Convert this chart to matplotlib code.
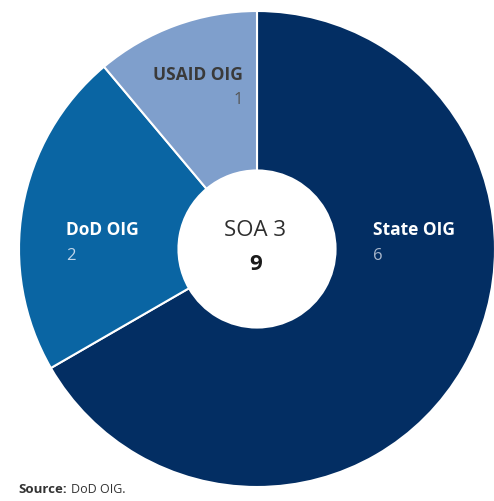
import matplotlib
matplotlib.use("Agg")
from matplotlib import pyplot as plt

# donut chart: SOA 3 oversight projects by agency
agencies = ["State OIG", "DoD OIG", "USAID OIG"]
counts = [6, 2, 1]
colors = ["#032e63", "#0a65a3", "#7f9fcc"]
center_title = "SOA 3"
center_total = str(sum(counts))

plt.rcParams['font.family'] = ['Open Sans', 'DejaVu Sans']

W, H = 494, 502
fig = plt.figure(figsize=(W / 100, H / 100), dpi=100)
ax = fig.add_axes([0, 0, 1, 1])

cx, cy, r = 257, H - 250, 238
ax.pie(counts, colors=colors, startangle=90, counterclock=False,
       center=(cx, cy), radius=r,
       wedgeprops=dict(width=r * 0.67, edgecolor="white", linewidth=1.5))
ax.set_xlim(0, W)
ax.set_ylim(0, H)
ax.set_aspect('equal')
ax.axis('off')

def Y(py):
    return H - py

# labels inside the wedges
lab = dict(fontsize=12.5, fontweight="bold", va="center")
num = dict(fontsize=12, va="center")
ax.text(373, Y(230), agencies[0], color="white", ha="left", **lab)
ax.text(373, Y(256), str(counts[0]), color="#a9b7cb", ha="left", **num)
ax.text(66, Y(230), agencies[1], color="white", ha="left", **lab)
ax.text(66, Y(256), str(counts[1]), color="#c0d5ea", ha="left", **num)
ax.text(243, Y(75), agencies[2], color="#3a3a3a", ha="right", **lab)
ax.text(243, Y(100), str(counts[2]), color="#555555", ha="right", **num)

# center
ax.text(255, Y(231), center_title, color="#2e2e2e", fontsize=16, va="center", ha="center")
ax.text(256, Y(264), center_total, color="#1a1a1a", fontsize=16, fontweight="bold", va="center", ha="center")

# source
ax.text(18, Y(490), "Source:", color="#333333", fontsize=9.5, fontweight="bold", va="center", ha="left")
ax.text(71, Y(490), "DoD OIG.", color="#333333", fontsize=9, va="center", ha="left")

fig.savefig("out.png", dpi=100)
